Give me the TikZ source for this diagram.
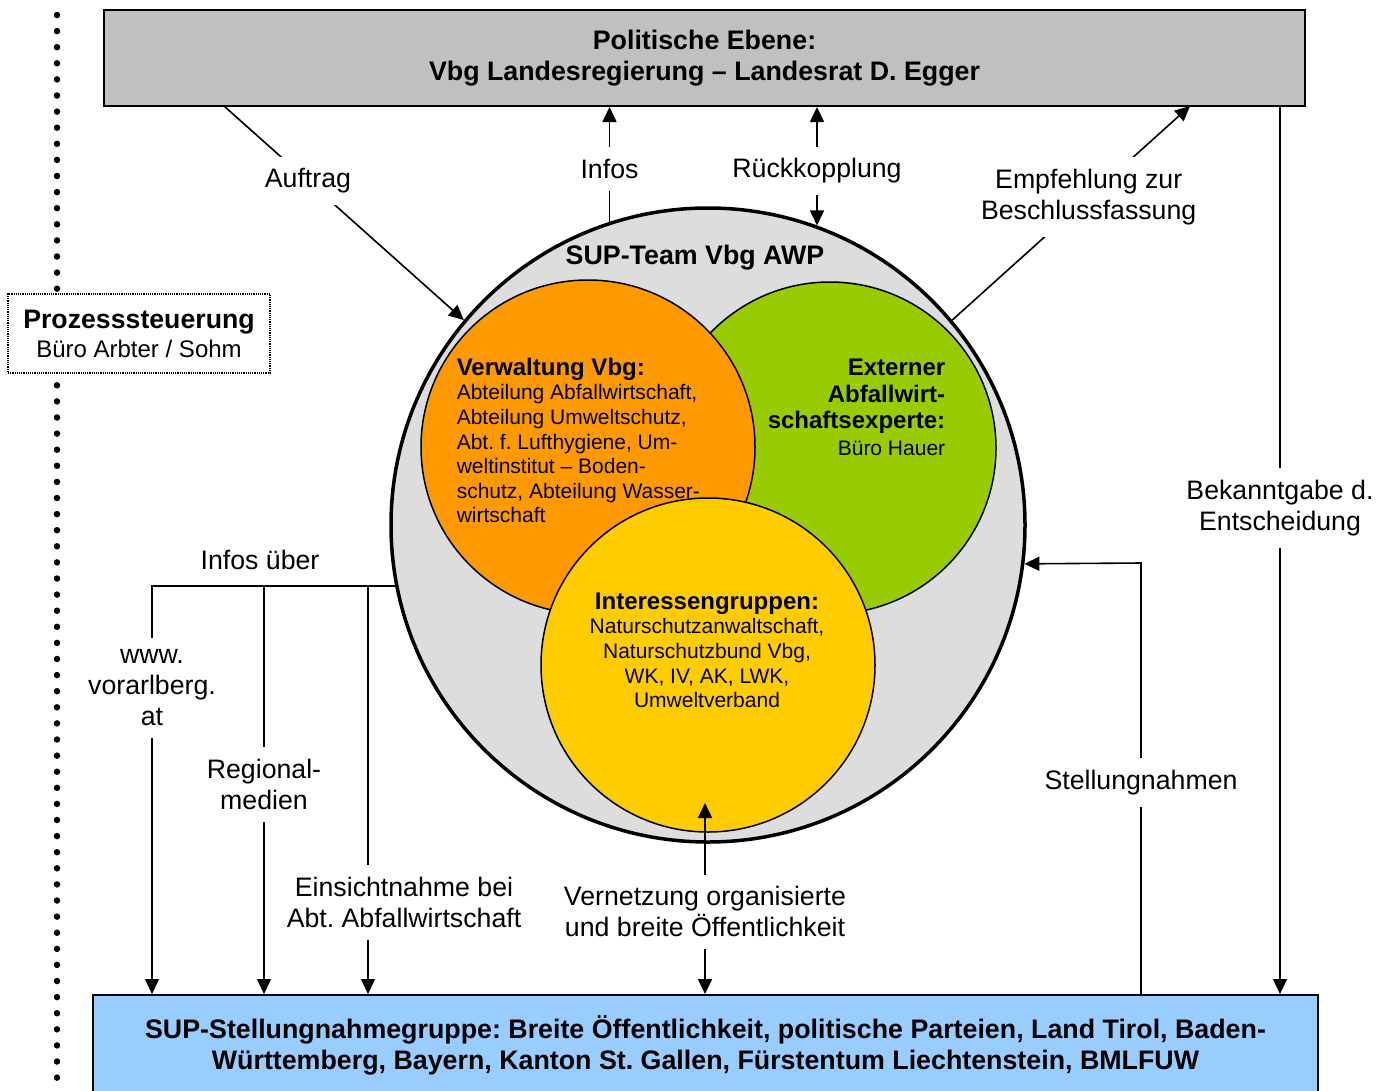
\documentclass[tikz,border=0pt]{standalone}
\usepackage{fontspec}
\setmainfont{Liberation Sans}
\usetikzlibrary{arrows.meta}
\frenchspacing
\definecolor{polgray}{HTML}{C0C0C0}
\definecolor{grpblue}{HTML}{99CCFF}
\definecolor{teamgray}{HTML}{DDDDDD}
\definecolor{verworange}{HTML}{FF9900}
\definecolor{extgreen}{HTML}{99CC00}
\definecolor{intyellow}{HTML}{FFCC00}
\tikzset{l/.style={font=\fontsize{26.7}{31}\selectfont, align=center}}
\tikzset{m/.style={font=\fontsize{21}{24.6}\selectfont, inner sep=0pt}}
\tikzset{w/.style={l, fill=white, inner xsep=4pt, inner ysep=12pt}}
\tikzset{box/.style={draw, line width=2pt, inner sep=0pt, align=center, font=\fontsize{26.8}{31}\selectfont\bfseries}}
\tikzset{ring/.style={circle, draw, line width=1.5pt, inner sep=0pt}}
\tikzset{dotline/.style={line width=6.5pt, line cap=round, dash pattern=on 0pt off 16.1pt}}

\begin{document}
\begin{tikzpicture}[x=1pt, y=-1pt, >={Triangle[length=15pt,width=14pt]}, line width=1.6pt]
  \useasboundingbox (0,0) rectangle (1386,1090);
  \coordinate (dtop) at (57,15);
  \coordinate (dbot) at (57,1090);
  \draw[dotline] (dtop) -- (dbot);
  \node[l, draw, densely dotted, line width=1.2pt, fill=white, minimum width=262pt, minimum height=79pt,
        inner sep=0pt, font=\fontsize{26.7}{29}\selectfont] (ctl) at (139,333.5)
        {\textbf{Prozesssteuerung}\\{\fontsize{24}{29}\selectfont Büro Arbter / Sohm}};

  \node[box, fill=polgray, minimum width=1201pt, minimum height=96pt] (pol) at (704.5,58)
        {Politische Ebene:\\Vbg Landesregierung – Landesrat D. Egger};
  \node[box, fill=grpblue, minimum width=1225pt, minimum height=100pt] (grp) at (705.5,1045)
        {SUP-Stellungnahmegruppe: Breite Öffentlichkeit, politische Parteien, Land Tirol, Baden-\\Württemberg, Bayern, Kanton St. Gallen, Fürstentum Liechtenstein, BMLFUW};

  \node[ring, fill=teamgray, line width=3.5pt, minimum size=634pt] (team) at (708,525) {};
  \node[ring, fill=extgreen, minimum size=332pt] (ext) at (830,448) {};
  \node[ring, fill=verworange, minimum size=334pt] (verw) at (588,447) {};
  \node[ring, fill=intyellow, minimum size=334pt] (int) at (708,665) {};

  \node[l, font=\fontsize{26.8}{31}\selectfont\bfseries] (teamt) at (695,258) {SUP-Team Vbg AWP};
  \node[m, align=left, anchor=north west] (verwt) at (456,357)
        {{\fontsize{24}{24.6}\selectfont\bfseries Verwaltung Vbg:}\\Abteilung Abfallwirtschaft,\\Abteilung Umweltschutz,\\Abt. f. Lufthygiene, Um-\\weltinstitut – Boden-\\schutz, Abteilung Wasser-\\wirtschaft};
  \node[m, align=right, anchor=north east, font=\fontsize{24}{26.7}\selectfont\bfseries] (extt) at (946,358)
        {Externer\\Abfallwirt-\\schaftsexperte:\\{\mdseries\fontsize{21}{26.7}\selectfont Büro Hauer}};
  \node[m, align=center, anchor=north] (intt) at (707,592)
        {{\fontsize{24}{24.6}\selectfont\bfseries Interessengruppen:}\\Naturschutzanwaltschaft,\\Naturschutzbund Vbg,\\WK, IV, AK, LWK,\\Umweltverband};

  \coordinate (auf0) at (224,106);
  \coordinate (emp1) at (1190,106);
  \coordinate (bek) at (1280,106);
  \coordinate (stl) at (1141,563);
  \coordinate (vtop) at (705,803);
  \coordinate (www) at (152,587);
  \coordinate (reg) at (264,587);
  \coordinate (ein) at (368,587);

  \draw[->] (auf0) -- node[w, pos=0.35] {Auftrag} (team.140);
  \draw[->] (team.108) -- node[w, pos=0.46] {Infos} (team.108 |- pol.south);
  \draw[<->] (team.70) -- node[w, pos=0.46] {Rückkopplung} (team.70 |- pol.south);
  \draw[->] (team.40) -- node[w, pos=0.574] {Empfehlung zur\\Beschlussfassung} (emp1);
  \draw[->] (bek) -- node[w, pos=0.453] {Bekanntgabe d.\\Entscheidung} (bek |- grp.north);
  \draw[->] (stl |- grp.north) -- node[w, pos=0.49] {Stellungnahmen} (stl) -- (team.-7);
  \draw[<->] (vtop) -- node[w, pos=0.57] {Vernetzung organisierte\\und breite Öffentlichkeit} (vtop |- grp.north);

  \node[l] (iub) at (260,560) {Infos über};
  \draw[->] (team.191) -| node[w, pos=0.625] {www.\\vorarlberg.\\at} (www |- grp.north);
  \draw[->] (reg) -- node[w, pos=0.485] {Regional-\\medien} (reg |- grp.north);
  \draw[->] (ein) -- node[w, pos=0.775, xshift=36pt] {Einsichtnahme bei\\Abt. Abfallwirtschaft} (ein |- grp.north);
\end{tikzpicture}
\end{document}
